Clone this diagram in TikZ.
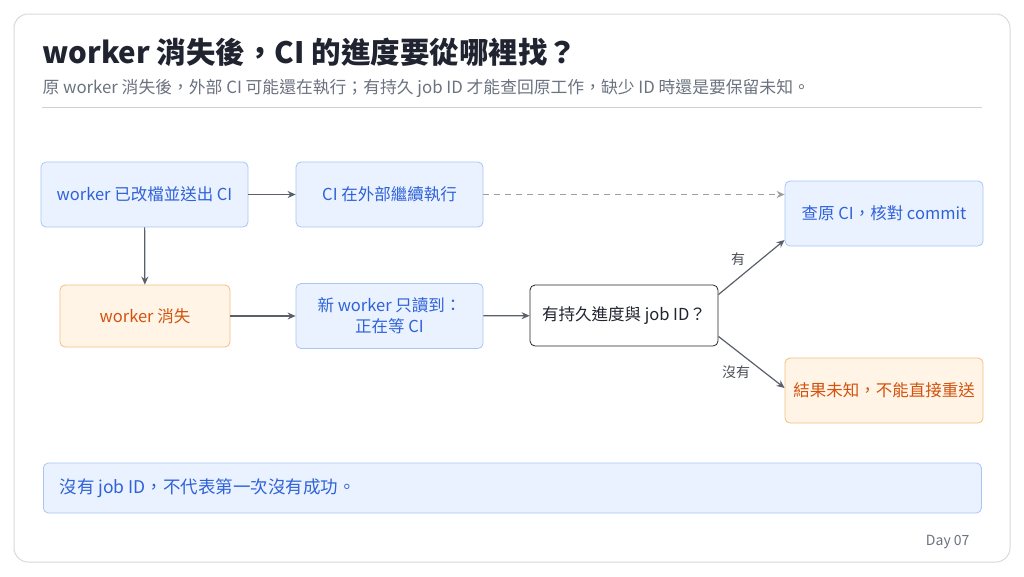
\documentclass[tikz,border=0pt]{standalone}
\usepackage{fontspec}
\setmainfont{Noto Sans CJK TC}
\usetikzlibrary{arrows.meta,positioning}
\definecolor{bluefill}{HTML}{EAF2FF}
\definecolor{blueline}{HTML}{A9C6F2}
\definecolor{bluetext}{HTML}{2F62D8}
\definecolor{orfill}{HTML}{FFF4E6}
\definecolor{orline}{HTML}{F3BF80}
\definecolor{ortext}{HTML}{D2530F}
\definecolor{arrowgray}{HTML}{5A606B}
\definecolor{subgray}{HTML}{6B7280}
\definecolor{titletext}{HTML}{1F2430}
\tikzset{
  box/.style={draw, rounded corners=5pt, line width=0.8pt, minimum height=65pt, align=center, font=\fontsize{16.5}{21}\selectfont},
  bluebox/.style={box, fill=bluefill, draw=blueline, text=bluetext},
  orbox/.style={box, fill=orfill, draw=orline, text=ortext},
  arr/.style={-{Stealth[length=8pt,width=7pt]}, draw=arrowgray, line width=1.2pt},
  lab/.style={font=\fontsize{14}{16}\selectfont, text=titletext!80}
}
\begin{document}
\begin{tikzpicture}[x=1pt,y=-1pt]
		\useasboundingbox (0,0) rectangle (1024,576);
		\draw[draw=gray!30, line width=1pt, fill=white, rounded corners=14pt] (14,14) rectangle (1010,562);

		% Title block
		\node[anchor=west, font=\bfseries\fontsize{29.5}{33}\selectfont, text=titletext] (title) at (39,52) {worker 消失後，CI 的進度要從哪裡找？};
		\node[anchor=west, font=\fontsize{16.8}{20}\selectfont, text=subgray] (sub) at (39,88) {原 worker 消失後，外部 CI 可能還在執行；有持久 job ID 才能查回原工作，缺少 ID 時還是要保留未知。};
		\draw[gray!35, line width=0.8pt] (42,107) -- (982,107);

		% Boxes
		\node[bluebox, minimum width=207pt] (sent) at (144.5,194.5) {worker 已改檔並送出 CI};
		\node[bluebox, minimum width=187pt] (ci) at (389.5,194.5) {CI 在外部繼續執行};
		\node[bluebox, minimum width=198pt] (check) at (884,213.5) {查原 CI，核對 commit};
		\node[orbox, minimum width=170pt, minimum height=62pt] (gone) at (145,316) {worker 消失};
		\node[bluebox, minimum width=187pt] (reads) at (389.5,316) {新 worker 只讀到：\\正在等 CI};
		\node[box, draw=black!85, fill=white, text=titletext, minimum width=188pt, minimum height=61pt] (ask) at (624,315.5) {有持久進度與 job ID？};
		\node[orbox, minimum width=198pt] (unknown) at (884,390.5) {結果未知，不能直接重送};

		% Connectors
		\draw[arr] (sent) -- (ci);
		\draw[arr] (sent) -- (gone);
		\draw[arr] (gone) -- (reads);
		\draw[arr] (reads) -- (ask);
		\draw[arr, dash pattern=on 6pt off 5pt, draw=gray!75, line width=1.3pt] (ci) -- (ci -| check.west);
		\draw[arr] (ask.north east) ++(0,10) coordinate (a1) -- (check.west |- 0,240) coordinate (c1);
		\draw[arr] (ask.south east) ++(0,-10) coordinate (a2) -- (unknown.west |- 0,388) coordinate (c2);
		\node[lab] (yes) at (738,259) {有};
		\node[lab] (no) at (736,372) {沒有};

		% Note
		\node[draw=blueline, fill=bluefill, rounded corners=5pt, line width=0.8pt, minimum width=938pt, minimum height=50pt, anchor=west] (note) at (43,488) {};
		\node[anchor=west, text=bluetext, font=\fontsize{17.5}{21}\selectfont] (notetext) at (56,488) {沒有 job ID，不代表第一次沒有成功。};
		\node[anchor=east, text=subgray, font=\fontsize{14}{16}\selectfont] (day) at (973,542) {Day 07};
\end{tikzpicture}
\end{document}
